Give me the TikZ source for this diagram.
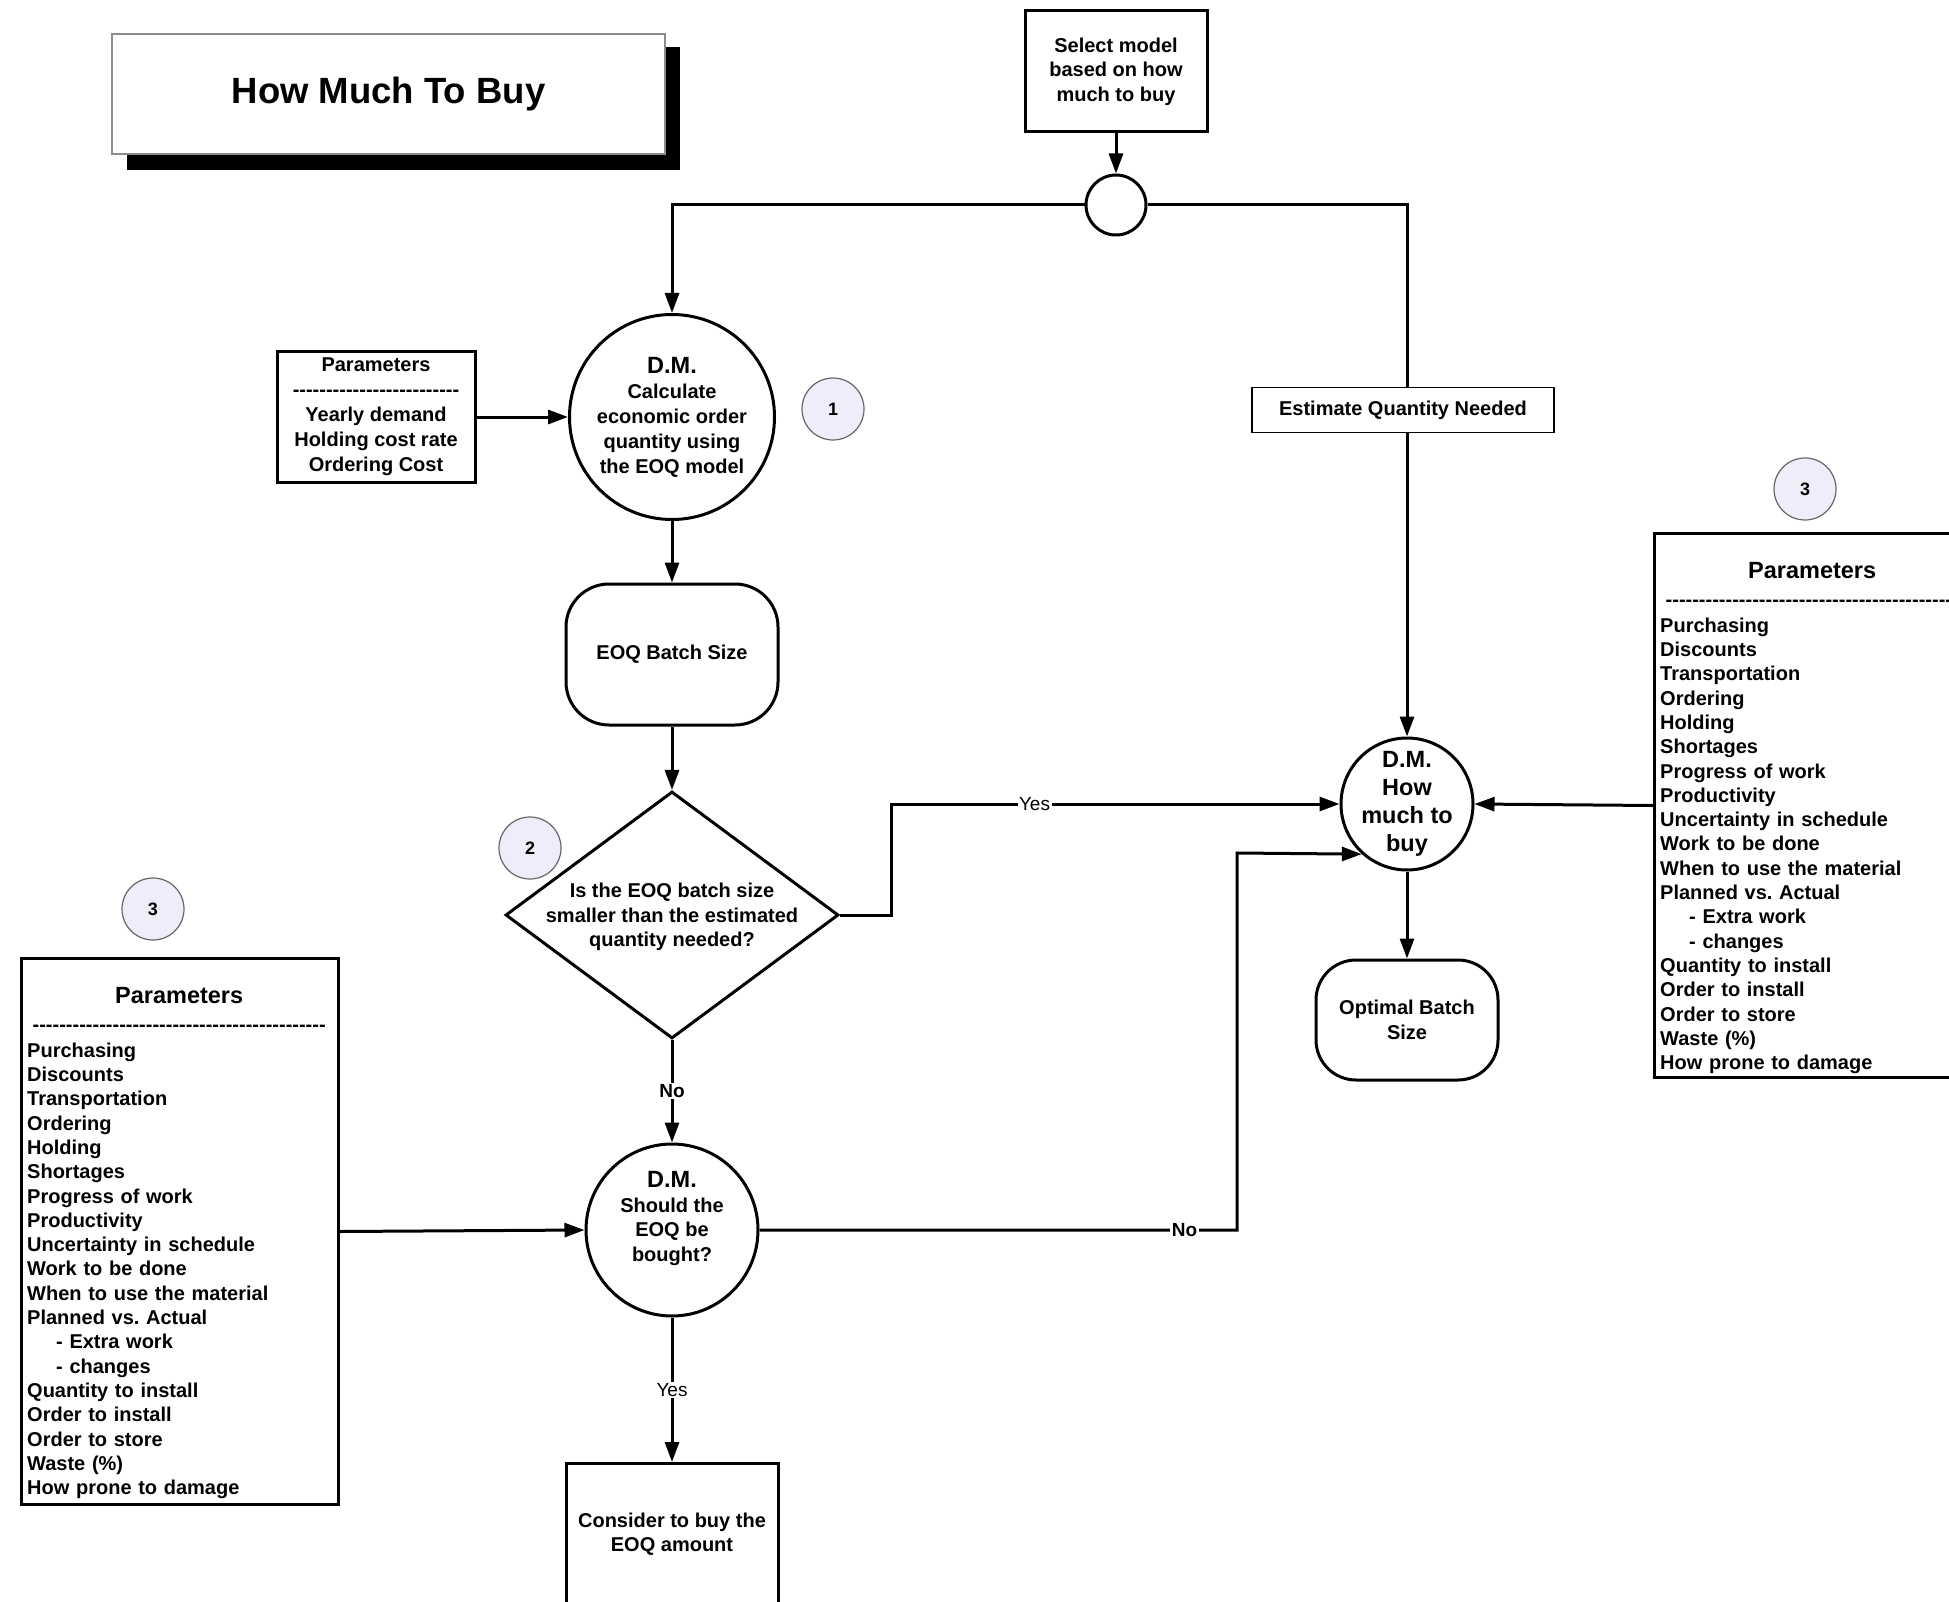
\documentclass[tikz,border=0pt]{standalone}
\usepackage{fontspec}
\setmainfont{Liberation Sans}
\usetikzlibrary{arrows.meta,shapes.geometric,calc}
\definecolor{badgefill}{HTML}{EEEEFB}
\frenchspacing
\def\dsh{-\kern0pt}
\def\dten{\dsh\dsh\dsh\dsh\dsh\dsh\dsh\dsh\dsh\dsh}
\newcommand\paramlist{%
  {\centering\fontsize{23.5}{28}\selectfont Parameters\par}
  {\centering\fontsize{20}{27.4}\selectfont \dten\dten\dten\dten\dsh\dsh\dsh\dsh\par}
  \vspace{1.7pt}
  \fontsize{20}{24.3}\selectfont
  Purchasing\\Discounts\\Transportation\\Ordering\\Holding\\Shortages\\Progress of work\\Productivity\\Uncertainty in schedule\\Work to be done\\When to use the material\\Planned vs. Actual\\\hspace*{29pt}- Extra work\\\hspace*{29pt}- changes\\Quantity to install\\Order to install\\Order to store\\Waste (\%)\\How prone to damage\par}
\begin{document}
\begin{tikzpicture}[x=1pt,y=-1pt,
  every node/.style={font=\bfseries\fontsize{20}{24.5}\selectfont, inner sep=0pt},
  ln/.style={line width=3pt},
  arr/.style={ln, -{Triangle[length=20pt,width=14pt]}},
  box/.style={draw, line width=3pt, fill=white, align=center},
  dmcircle/.style={circle, draw, line width=3pt, fill=white, align=center},
  badge/.style={circle, draw=black!60, line width=1.2pt, fill=badgefill, minimum size=62, font=\bfseries\fontsize{18}{20}\selectfont},
  lab/.style={fill=white, inner sep=1.5pt, font=\fontsize{19}{20}\selectfont},
  labb/.style={lab, font=\bfseries\fontsize{19}{20}\selectfont},
  parbox/.style={draw, line width=3pt, fill=white, anchor=north west, minimum width=317, minimum height=545},
  partext/.style={anchor=north west, text width=304, align=left}
]
\useasboundingbox (0,0) rectangle (1949,1602);
\clip (0,0) rectangle (1949,1602);

% title
\fill (127,47) rectangle (680,170);
\node[draw=black!45, line width=1.5pt, fill=white, minimum width=553, minimum height=120,
      font=\bfseries\fontsize{36.5}{40}\selectfont] (title) at (388.5,94) {How Much To Buy};

% nodes
\node[box, minimum width=182, minimum height=121] (sel) at (1116,71.5) {Select model\\based on how\\much to buy};
\node[circle, draw, line width=3pt, fill=white, minimum size=60] (jn) at (1116,205) {};
\node[dmcircle, minimum size=205, font=\bfseries\fontsize{20}{25}\selectfont] (c1) at (672,417)
  {{\fontsize{23.5}{26}\selectfont D.M.}\\Calculate\\economic order\\quantity using\\the EOQ model};
\node[box, minimum width=198, minimum height=130, font=\bfseries\fontsize{20}{25}\selectfont] (sp) at (376,417)
  {Parameters\\\dten\dten\dsh\dsh\dsh\dsh\dsh\\Yearly demand\\Holding cost rate\\Ordering Cost};
\node[badge] (b1) at (833,409) {1};
\node[draw, line width=1.2pt, fill=white, minimum width=302, minimum height=45] (est) at (1403,410) {Estimate Quantity Needed};
\node[box, rounded corners=43, minimum width=212, minimum height=141] (eoq) at (672,654.5) {EOQ Batch Size};
\node[diamond, draw, line width=3pt, fill=white, minimum width=333, minimum height=247] (q) at (672,915) {};
\node[align=center] (qtxt) at (672,917) {Is the EOQ batch size\\smaller than the estimated\\quantity needed?};
\node[badge] (b2) at (530,848) {2};
\node[dmcircle, minimum size=132, inner sep=-5pt, font=\bfseries\fontsize{23.5}{27.8}\selectfont] (hm) at (1407,804)
  {D.M.\\How\\much to\\buy};
\node[box, rounded corners=40, minimum width=182, minimum height=120] (opt) at (1407,1020) {Optimal Batch\\Size};
\node[dmcircle, minimum size=172, text depth=27pt] (sh) at (672,1230)
  {{\fontsize{23.5}{26}\selectfont D.M.}\\Should the\\EOQ be\\bought?};
\node[box, minimum width=212, minimum height=220, anchor=north] (con) at (672,1462) {};
\node[align=center] (contxt) at (672,1534) {Consider to buy the\\EOQ amount};

\node[badge] (b3l) at (153,909) {3};
\node[badge] (b3r) at (1805,489) {3};

\node[parbox, minimum height=546] (lp) at (20,957) {};
\node[partext] (lptxt) at ($(lp.north west)+(7,30.5)$) {\paramlist};
\node[parbox, minimum height=544] (rp) at (1653,532) {};
\node[partext] (rptxt) at ($(rp.north west)+(7,30.5)$) {\paramlist};

% connectors
\draw[arr] (sel) -- (jn);
\draw[arr] (jn.west) -| (c1.north);
\draw[ln] (jn.east) -| (hm.north |- est.north);
\draw[arr] (sp) -- (c1);
\draw[arr] (c1) -- (eoq);
\draw[arr] (eoq) -- (q);
\draw[arr] (hm.north |- est.south) -- (hm);
\draw[arr] (q.east) -- ++(51,0) |- node[lab, pos=0.66] {Yes} (hm.west);
\draw[arr] (q) -- node[labb] {No} (sh);
\draw[arr] (lp.east) -- (sh.west);
\draw[arr] (rp.west) -- (hm.east);
\draw[arr] (hm) -- (opt);
\draw[arr] (sh) -- node[lab] {Yes} (con);
\coordinate (nj) at (1237,853);
\draw[arr] (sh.east) -- node[labb, pos=0.89] {No} (sh.east -| nj) -- (nj) -- (hm.-132);
\end{tikzpicture}
\end{document}
